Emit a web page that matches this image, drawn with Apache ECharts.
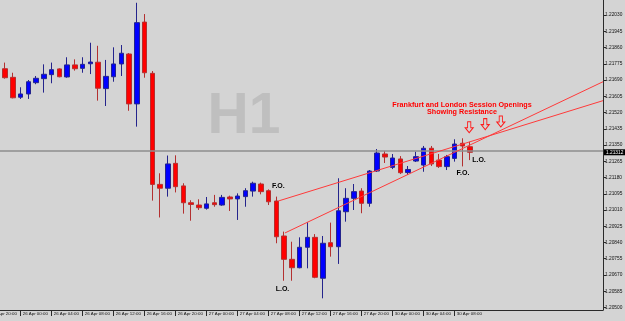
<!DOCTYPE html>
<html><head><meta charset="utf-8">
<script src="https://cdn.jsdelivr.net/npm/echarts@6/dist/echarts.min.js"></script>
<style>html,body{margin:0;padding:0;background:#d4d4d4;}#c{width:625px;height:321px;}</style>
</head><body><div id="c"></div>
<script>
// hourly bar times (server time), weekend gap between 27 Apr and 30 Apr
const sessions = [['25 Apr',21,23],['26 Apr',0,23],['27 Apr',0,23],['30 Apr',0,10]];
const barTimes = [];
sessions.forEach(([d,a,b])=>{for(let h=a;h<=b;h++) barTimes.push(d+' '+String(h).padStart(2,'0')+':00');});

const open = [1.21763,1.21749,1.21704,1.21600,1.21617,1.21676,1.21697,1.21718,1.21748,1.21706,
1.21769,1.21751,1.21775,1.21783,1.21645,1.21707,1.21774,1.21826,1.21565,1.21993,
1.21725,1.21144,1.21124,1.21254,1.21136,1.21048,1.21036,1.21019,1.21048,1.21036,
1.21078,1.21068,1.21080,1.21109,1.21146,1.21111,1.21057,1.20874,1.20752,1.20708,
1.20815,1.20867,1.20653,1.20839,1.20818,1.21001,1.21071,1.21109,1.21045,1.21214,
1.21303,1.21233,1.21277,1.21206,1.21266,1.21245,1.21333,1.21271,1.21237,1.21280,
1.21359,1.21341];
const high = [1.21774,1.21781,1.21728,1.21652,1.21690,1.21711,1.21772,1.21781,1.21751,1.21809,
1.21798,1.21809,1.21885,1.21869,1.21795,1.21861,1.21873,1.21831,1.22094,1.22035,
1.21737,1.21202,1.21295,1.21296,1.21150,1.21061,1.21066,1.21078,1.21089,1.21089,
1.21085,1.21097,1.21124,1.21158,1.21153,1.21118,1.21080,1.20897,1.20844,1.20867,
1.20946,1.20884,1.20874,1.20944,1.21176,1.21124,1.21146,1.21124,1.21219,1.21329,
1.21319,1.21303,1.21292,1.21240,1.21315,1.21345,1.21345,1.21303,1.21298,1.21380,
1.21385,1.21367];
const low = [1.21742,1.21697,1.21594,1.21591,1.21591,1.21668,1.21624,1.21673,1.21704,1.21702,
1.21739,1.21728,1.21721,1.21582,1.21554,1.21681,1.21711,1.21529,1.21446,1.21702,
1.21059,1.20971,1.21080,1.21102,1.20991,1.20954,1.21010,1.21012,1.21027,1.21032,
1.21005,1.20958,1.21027,1.21080,1.21092,1.21036,1.20836,1.20640,1.20640,1.20705,
1.20705,1.20653,1.20548,1.20766,1.20728,1.20949,1.21010,1.20993,1.21027,1.21209,
1.21256,1.21224,1.21198,1.21193,1.21261,1.21210,1.21240,1.21230,1.21219,1.21263,
1.21238,1.21271];
const close = [1.21750,1.21702,1.21597,1.21617,1.21681,1.21699,1.21720,1.21744,1.21707,1.21769,
1.21749,1.21772,1.21784,1.21647,1.21709,1.21774,1.21830,1.21565,1.21990,1.21728,
1.21144,1.21124,1.21251,1.21132,1.21048,1.21039,1.21022,1.21042,1.21038,1.21076,
1.21068,1.21083,1.21111,1.21150,1.21106,1.21053,1.20870,1.20752,1.20708,1.20815,
1.20867,1.20658,1.20836,1.20818,1.21006,1.21071,1.21106,1.21045,1.21214,1.21308,
1.21287,1.21282,1.21205,1.21222,1.21289,1.21333,1.21251,1.21237,1.21289,1.21355,
1.21345,1.21312];

const priceTicks = [1.20500,1.20585,1.20670,1.20755,1.20840,1.20925,1.21010,1.21095,1.21180,1.21265,
1.21350,1.21435,1.21520,1.21605,1.21690,1.21775,1.21860,1.21945,1.22030];
const priceMin = 1.204869, priceMax = 1.221085;
const barMin = 0.329, barMax = 78.135;
const lastPrice = 1.21312;
const bidLine = 1.21322;
const prevTimeLabel = '25 Apr 20:00';

// annotations (data coords: [bar index, price])
const trendLines = [[[36.24,1.21057],[78.135,1.21582]],[[37.1,1.20890],[78.135,1.21681]]];
const arrowPoints = [[60.87,1.21443],[62.94,1.21459],[64.95,1.21473]];
const headline = ['Frankfurt and London Session Openings','Showing Resistance'];
const headlineAt = [[59.94,1.21559],[59.94,1.21525]];
const sessionTags = ['F.O.','L.O.','F.O.','L.O.'];
const sessionTagAt = [[36.24,1.21136],[36.78,1.20597],[60.07,1.21204],[62.13,1.21271]];
const watermark = 'H1';
const watermarkAt = [31.81,1.21494];

const tickIdx = barTimes.map((t,i)=>i).filter(i=>parseInt(barTimes[i].slice(-5,-3))%4===0);
const candles = barTimes.map((t,i)=>[i,open[i],close[i],low[i],high[i]]);

const axisColor = '#2a2a2a';
const xFont = '"Liberation Sans Narrow","Liberation Sans",Arial,sans-serif';
const yFont = '"Liberation Sans",Arial,sans-serif';

const markPoints = [];
arrowPoints.forEach(c=>markPoints.push({coord:c, symbol:'path://M3,0L7,0L7,6L10,6L5,11L0,6L3,6Z', symbolSize:[8,11],
  itemStyle:{color:'rgba(0,0,0,0)', borderColor:'#ff1a1a', borderWidth:1}, label:{show:false}}));
headline.forEach((t,k)=>markPoints.push({coord:headlineAt[k], symbol:'rect', symbolSize:1, itemStyle:{color:'rgba(0,0,0,0)'},
  label:{show:true, position:'inside', formatter:t, color:'#ff0000', fontSize:7.2, fontWeight:'bold', fontFamily:yFont}}));
sessionTags.forEach((t,k)=>markPoints.push({coord:sessionTagAt[k], symbol:'rect', symbolSize:1, itemStyle:{color:'rgba(0,0,0,0)'},
  label:{show:true, position:'inside', formatter:t, color:'#000', fontSize:7, fontWeight:'bold', fontFamily:yFont}}));
markPoints.push({coord:watermarkAt, symbol:'rect', symbolSize:1, itemStyle:{color:'rgba(0,0,0,0)'},
  label:{show:true, position:'inside', formatter:watermark, color:'#bfbfbf', fontSize:57, fontWeight:'bold', fontFamily:yFont}});

const chart = echarts.init(document.getElementById('c'), null, {renderer:'canvas'});
chart.setOption({
  animation:false,
  backgroundColor:'#d4d4d4',
  grid:{left:0, top:0, right:22, bottom:11, containLabel:false, outerBoundsMode:'none'},
  xAxis:{type:'value', min:barMin, max:barMax, splitLine:{show:false},
    axisLine:{show:true, onZero:false, lineStyle:{color:axisColor, width:1}},
    axisTick:{show:true, customValues:tickIdx, length:6, lineStyle:{color:axisColor}},
    axisLabel:{customValues:tickIdx, formatter:v=>barTimes[Math.round(v)], align:'left', padding:[0,0,0,2],
      margin:2, fontSize:4.4, color:'#111', fontFamily:xFont}},
  yAxis:{type:'value', position:'right', min:priceMin, max:priceMax, scale:true, splitLine:{show:false},
    axisLine:{show:true, onZero:false, lineStyle:{color:axisColor, width:1}},
    axisTick:{show:true, customValues:priceTicks, length:3, lineStyle:{color:axisColor}},
    axisLabel:{customValues:priceTicks, formatter:v=>v.toFixed(5), margin:2, fontSize:4.8, color:'#111', fontFamily:yFont}},
  series:[{
    type:'candlestick',
    dimensions:['idx','open','close','lowest','highest'],
    encode:{x:'idx', y:['open','close','lowest','highest']},
    data:candles,
    barWidth:5,
    itemStyle:{color:'#0000ff', color0:'#ff0000', borderColor:'#24248c', borderColor0:'#b33030', borderWidth:1},
    markLine:{silent:true, precision:6, symbol:['none','none'], animation:false, label:{show:false},
      data:[
        {yAxis:bidLine, lineStyle:{color:'#8e8e8e', width:1.5, type:'solid'}},
        ...trendLines.map(([a,b])=>[{coord:a, lineStyle:{color:'#ff3a3a', width:1, type:'solid'}},{coord:b}])
      ]},
    markPoint:{silent:true, animation:false, data:markPoints}
  }]
});
const px = chart.convertToPixel({xAxisIndex:0}, -1);
const py = chart.convertToPixel({yAxisIndex:0}, lastPrice);
const axisX = chart.convertToPixel({xAxisIndex:0}, barMax);
chart.setOption({graphic:[
  {type:'text', left:px+2, top:312, silent:true,
    style:{text:prevTimeLabel, fontSize:4.4, fontFamily:xFont, fill:'#111'}},
  {type:'rect', silent:true, z:100, shape:{x:axisX+1, y:py-3, width:625-axisX-1, height:6}, style:{fill:'#000'}},
  {type:'text', silent:true, z:101, x:axisX+3, y:py, style:{text:lastPrice.toFixed(5), fontSize:4.8, fontFamily:yFont,
    fill:'#fff', verticalAlign:'middle', align:'left'}}
]});
</script></body></html>
